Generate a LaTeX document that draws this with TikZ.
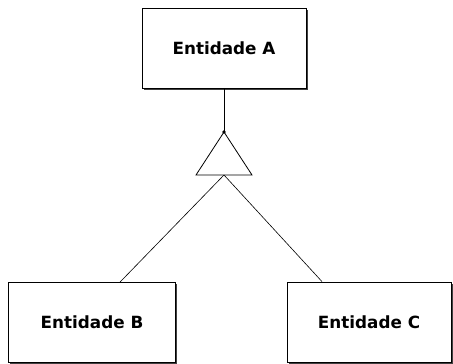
\documentclass[tikz,border=0pt]{standalone}
\usepackage{fontspec}
\setmainfont{DejaVu Sans}
\usetikzlibrary{shadows}

\tikzset{entidade/.style={draw,fill=white,thick,minimum width=164pt,minimum height=80pt,
  font=\bfseries\fontsize{16.8}{20}\selectfont,
  drop shadow={shadow xshift=1.6pt,shadow yshift=-1.6pt,fill=black!75,opacity=1}}}

\begin{document}
\begin{tikzpicture}[x=1pt,y=-1pt]
\useasboundingbox (0,0) rectangle (453,364);
\node[entidade] (A) at (224,48) {Entidade A};
\node[entidade,minimum width=167pt] (B) at (92,322.5) {Entidade B};
\node[entidade,minimum width=164pt] (C) at (369,322) {Entidade C};
% triangulo da generalizacao
\coordinate (apex) at (224,132);
\coordinate (base) at (224,175);
\draw[thick,line join=miter] (apex) -- (196,175) -- (252,175) -- cycle;
\fill (apex) circle (1.8);
\draw[thick] (A.south) -- (apex);
\draw[semithick] (base) -- ([xshift=28pt]B.north);
\draw[semithick] (base) -- ([xshift=-47pt]C.north);
\end{tikzpicture}
\end{document}
